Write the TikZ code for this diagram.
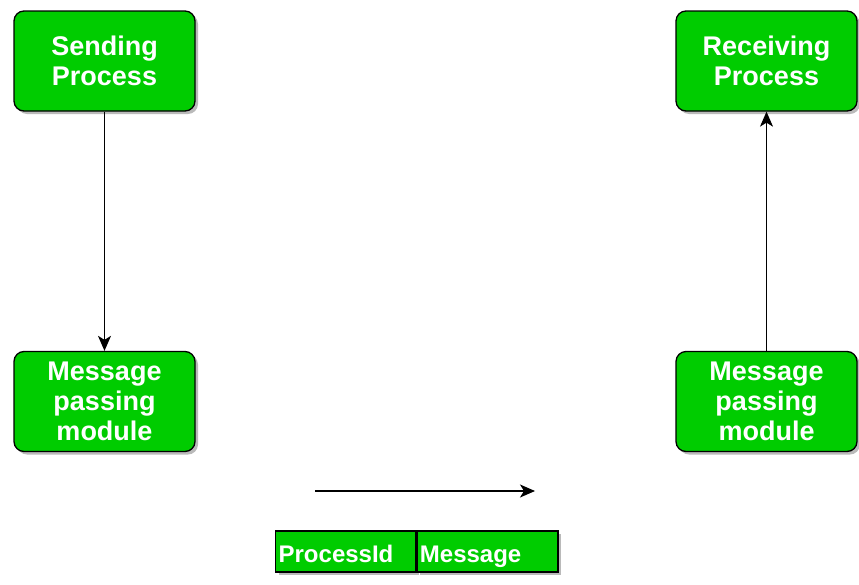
\documentclass[tikz,border=0pt]{standalone}
\usepackage{fontspec}
\setmainfont{Liberation Sans}
\usetikzlibrary{arrows.meta,shadows}
\definecolor{boxgreen}{HTML}{00CC00}
\begin{document}
\begin{tikzpicture}[x=1pt,y=-1pt,
  procbox/.style={draw=black, line width=1.3pt, fill=boxgreen, rounded corners=10pt,
    minimum width=181pt, minimum height=100pt, align=center, text=white,
    font=\fontsize{27}{30}\selectfont\bfseries,
    drop shadow={shadow xshift=3pt, shadow yshift=-3pt, fill=black!45, opacity=0.6}},
  cellbox/.style={draw=black, line width=1.3pt, fill=boxgreen, minimum height=41pt,
    text=white, font=\fontsize{24}{26}\selectfont\bfseries, inner sep=3pt,
    text height=21pt, text depth=0pt, align=left,
    drop shadow={shadow xshift=3pt, shadow yshift=-3pt, fill=black!45, opacity=0.6}},
  flow/.style={line width=1.2pt, -{Stealth[length=15pt,width=13pt,inset=4pt]}}]
\useasboundingbox (0,0) rectangle (859,584);

% processes and their message passing modules
\node[procbox] (send) at (104.5,61) {Sending\\Process};
\node[procbox] (mpl)  at (104.5,401.5) {Message\\passing\\module};
\node[procbox] (recv) at (766.5,61) {Receiving\\Process};
\node[procbox] (mpr)  at (766.5,401.5) {Message\\passing\\module};

\draw[flow] (send) -- (mpl);
\draw[flow] (mpr) -- (recv);

% message in transit
\coordinate (ta) at (315,491);
\coordinate (tb) at (535,491);
\draw[flow] (ta) -- (tb);

% message format
\node[cellbox, minimum width=140pt, anchor=west, text width=134pt] (pid) at (275,551.5) {ProcessId};
\node[cellbox, minimum width=141pt, anchor=west, text width=135pt] (msg) at (pid.east) {Message};
\end{tikzpicture}
\end{document}
